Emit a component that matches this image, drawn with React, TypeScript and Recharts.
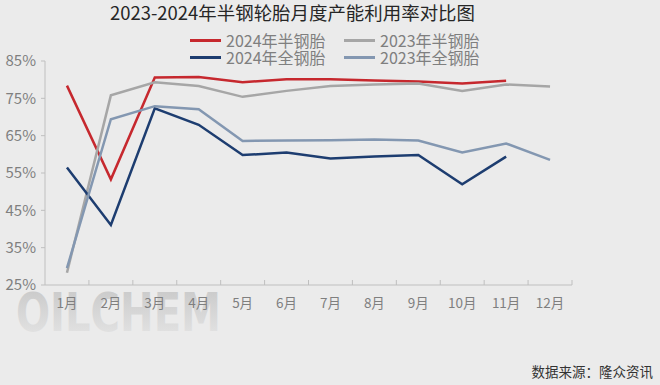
import { LineChart, Line, XAxis, YAxis } from "recharts";

const months = ["1月", "2月", "3月", "4月", "5月", "6月", "7月", "8月", "9月", "10月", "11月", "12月"];

// 产能利用率 (%)
const semi2024 = [78.4, 53.3, 80.6, 80.7, 79.3, 80.1, 80.1, 79.8, 79.5, 79.0, 79.7, null];
const semi2023 = [28.3, 75.8, 79.3, 78.3, 75.4, 77.0, 78.3, 78.7, 79.0, 77.0, 78.7, 78.2];
const full2024 = [56.5, 41.1, 72.3, 67.9, 59.8, 60.5, 58.9, 59.4, 59.8, 52.0, 59.4, null];
const full2023 = [29.5, 69.4, 72.9, 72.1, 63.6, 63.7, 63.8, 64.0, 63.7, 60.5, 62.9, 58.5];

const yTicks = [25, 35, 45, 55, 65, 75, 85];

const series = [
  { key: "semi2024", name: "2024年半钢胎", color: "#c6282e" },
  { key: "semi2023", name: "2023年半钢胎", color: "#a6a6a6" },
  { key: "full2024", name: "2024年全钢胎", color: "#1d3d70" },
  { key: "full2023", name: "2023年全钢胎", color: "#8397b1" },
];

const data = months.map((m, i) => ({
  month: m,
  semi2024: semi2024[i],
  semi2023: semi2023[i],
  full2024: full2024[i],
  full2023: full2023[i],
}));

const FONT = '"Noto Sans CJK SC", "Noto Sans", sans-serif';
const PLOT_W = 527;
const STEP = PLOT_W / months.length;
const AXIS = "#bfbfbf";

function MonthTick(props: any) {
  const { x, y, payload } = props;
  return (
    <g>
      <line x1={x + STEP / 2} x2={x + STEP / 2} y1={y} y2={y - 5} stroke={AXIS} />
      <text x={x} y={y + 23} textAnchor="middle" fill="#7f7f7f" fontSize={13.5} fontFamily={FONT}>
        {payload.value}
      </text>
    </g>
  );
}

function LegendBlock() {
  return (
    <div style={{ position: "absolute", left: 190, top: 31, width: 300, fontFamily: FONT, fontSize: 16, color: "#7f7f7f" }}>
      {series.map((s, i) => (
        <div
          key={s.key}
          style={{
            position: "absolute",
            left: (i % 2) * 154,
            top: Math.floor(i / 2) * 17,
            height: 18,
            display: "flex",
            alignItems: "center",
            whiteSpace: "nowrap",
          }}
        >
          <span style={{ display: "inline-block", width: 31, height: 3, background: s.color, marginRight: 5 }} />
          <span style={{ lineHeight: "18px" }}>{s.name}</span>
        </div>
      ))}
    </div>
  );
}

export default function App() {
  return (
    <div style={{ position: "absolute", left: 0, top: 0, width: 660, height: 385, background: "#ebebeb", overflow: "hidden" }}>
      <svg width={660} height={385} style={{ position: "absolute", left: 0, top: 0 }}>
        <defs>
          <linearGradient id="wm" x1="0" y1="0" x2="0" y2="1">
            <stop offset="0%" stopColor="#c6c6c6" />
            <stop offset="55%" stopColor="#d8d8d8" />
            <stop offset="100%" stopColor="#e7e7e7" />
          </linearGradient>
        </defs>
        <text x={16} y={331} fontSize={54} fontWeight="bold" fontFamily='"DejaVu Sans", sans-serif' fill="url(#wm)" textLength={205} lengthAdjust="spacingAndGlyphs">
          OILCHEM
        </text>
      </svg>
      <div style={{ position: "absolute", left: 0, top: 0 }}>
        <LineChart width={660} height={385} data={data} margin={{ top: 61, right: 88, bottom: 70, left: 0 }}>
          <XAxis
            dataKey="month"
            height={30}
            padding={{ left: STEP / 2, right: STEP / 2 }}
            stroke={AXIS}
            tickLine={false}
            tickSize={0}
            tickMargin={0}
            interval={0}
            tick={<MonthTick />}
          />
          <YAxis
            width={45}
            domain={[25, 85]}
            ticks={yTicks}
            interval={0}
            stroke={AXIS}
            tickSize={4}
            tickMargin={5}
            tickFormatter={(v: number) => `${v}%`}
            tick={{ fill: "#7f7f7f", fontSize: 15, fontFamily: FONT }}
          />
          {series.map((s) => (
            <Line
              key={s.key}
              type="linear"
              dataKey={s.key}
              name={s.name}
              stroke={s.color}
              strokeWidth={2.5}
              dot={false}
              isAnimationActive={false}
            />
          ))}
        </LineChart>
      </div>
      <svg width={660} height={385} style={{ position: "absolute", left: 0, top: 0, pointerEvents: "none" }}>
        <text x={110} y={20} fontSize={18} fill="#262626" fontFamily={FONT} textLength={365} lengthAdjust="spacingAndGlyphs">
          2023-2024年半钢轮胎月度产能利用率对比图
        </text>
        <text x={653} y={377} fontSize={13.5} fill="#333333" fontFamily={FONT} textAnchor="end">
          数据来源：隆众资讯
        </text>
      </svg>
      <LegendBlock />
    </div>
  );
}
